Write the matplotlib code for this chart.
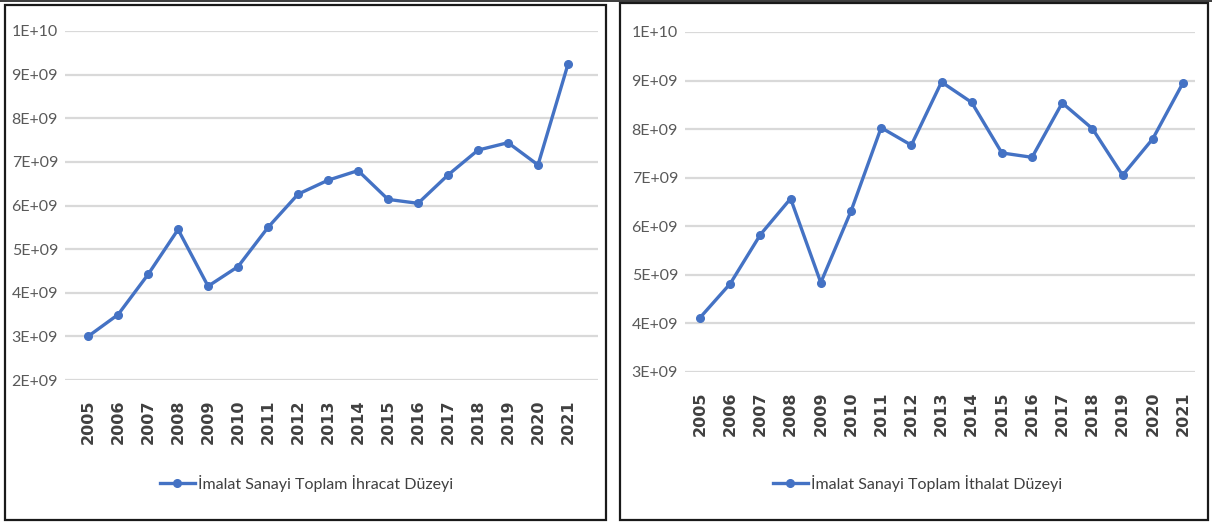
import numpy as np
import matplotlib.pyplot as plt
from matplotlib.patches import Rectangle
from matplotlib.ticker import FuncFormatter

# ---------------------------------------------------------
# Data
# ---------------------------------------------------------
years = [str(y) for y in range(2005, 2022)]

ihracat = [3.00e9, 3.50e9, 4.42e9, 5.45e9, 4.15e9, 4.60e9, 5.50e9, 6.26e9, 6.58e9,
           6.80e9, 6.14e9, 6.05e9, 6.70e9, 7.27e9, 7.44e9, 6.93e9, 9.24e9]
ithalat = [4.12e9, 4.82e9, 5.83e9, 6.57e9, 4.84e9, 6.31e9, 8.03e9, 7.67e9, 8.97e9,
           8.55e9, 7.51e9, 7.42e9, 8.54e9, 8.01e9, 7.05e9, 7.80e9, 8.95e9]

label_left = "İmalat Sanayi Toplam İhracat Düzeyi"
label_right = "İmalat Sanayi Toplam İthalat Düzeyi"

ticks_left = [2e9, 3e9, 4e9, 5e9, 6e9, 7e9, 8e9, 9e9, 1e10]
ticks_right = [3e9, 4e9, 5e9, 6e9, 7e9, 8e9, 9e9, 1e10]

W, H = 1212, 525
blue = "#4472C4"
narrow = ["Lato", "DejaVu Sans"]


def excel_sci(v, pos):
    m, e = f"{v:.0E}".split("E")
    return f"{m}E{e}"


def px_axes(fig, x0, y0, x1, y1):
    return fig.add_axes([x0 / W, 1 - y1 / H, (x1 - x0) / W, (y1 - y0) / H])


fig = plt.figure(figsize=(W / 100, H / 100), dpi=100)

# Rahmen um beide Diagramme
fig.patches.append(Rectangle((5 / W, 1 - 520 / H), 601 / W, 515 / H, transform=fig.transFigure,
                             fill=False, edgecolor="#1a1a1a", linewidth=1.6))
fig.patches.append(Rectangle((620 / W, 1 - 520 / H), 588 / W, 517 / H, transform=fig.transFigure,
                             fill=False, edgecolor="#1a1a1a", linewidth=1.6))
fig.add_artist(plt.Line2D([0, 1], [1 - 1 / H, 1 - 1 / H], transform=fig.transFigure,
                          color="#1a1a1a", linewidth=1.2))

panels = [
    (px_axes(fig, 65, 31, 598, 380), ihracat, ticks_left, (2e9, 1e10), (-0.77, 17.0), label_left, 0.253),
    (px_axes(fig, 685, 32, 1195, 372), ithalat, ticks_right, (3e9, 1e10), (-0.5, 16.4), label_right, 0.757),
]

for ax, vals, yt, ylim, xlim, lab, lx in panels:
    x = np.arange(len(years))
    ax.plot(x, vals, color=blue, linewidth=2.4, marker="o", markersize=5.5,
            markeredgecolor=blue, label=lab, solid_joinstyle="round")
    ax.set_ylim(*ylim)
    ax.set_xlim(*xlim)
    ax.set_yticks(yt)
    ax.yaxis.set_major_formatter(FuncFormatter(excel_sci))
    ax.set_xticks(x)
    ax.set_xticklabels(years, rotation=90, fontweight="bold", fontsize=11.5, color="#404040")
    for t in ax.get_yticklabels():
        t.set_family(narrow)
        t.set_fontsize(11.5)
        t.set_color("#595959")
    ax.tick_params(length=0, pad=5)
    ax.tick_params(axis="x", pad=14)
    for s in ax.spines.values():
        s.set_visible(False)
    ax.grid(axis="y", color="#d9d9d9", linewidth=1.6)
    ax.set_axisbelow(True)
    ax.patch.set_alpha(0)
    ax.legend(loc="center", bbox_to_anchor=(lx, 1 - 483 / H), bbox_transform=fig.transFigure,
              frameon=False, handlelength=2.2, handletextpad=0.2,
              prop={"family": narrow, "size": 11.5})
    leg = ax.get_legend()
    for t in leg.get_texts():
        t.set_color("#404040")

fig.savefig("out.png", dpi=100, facecolor="white")
